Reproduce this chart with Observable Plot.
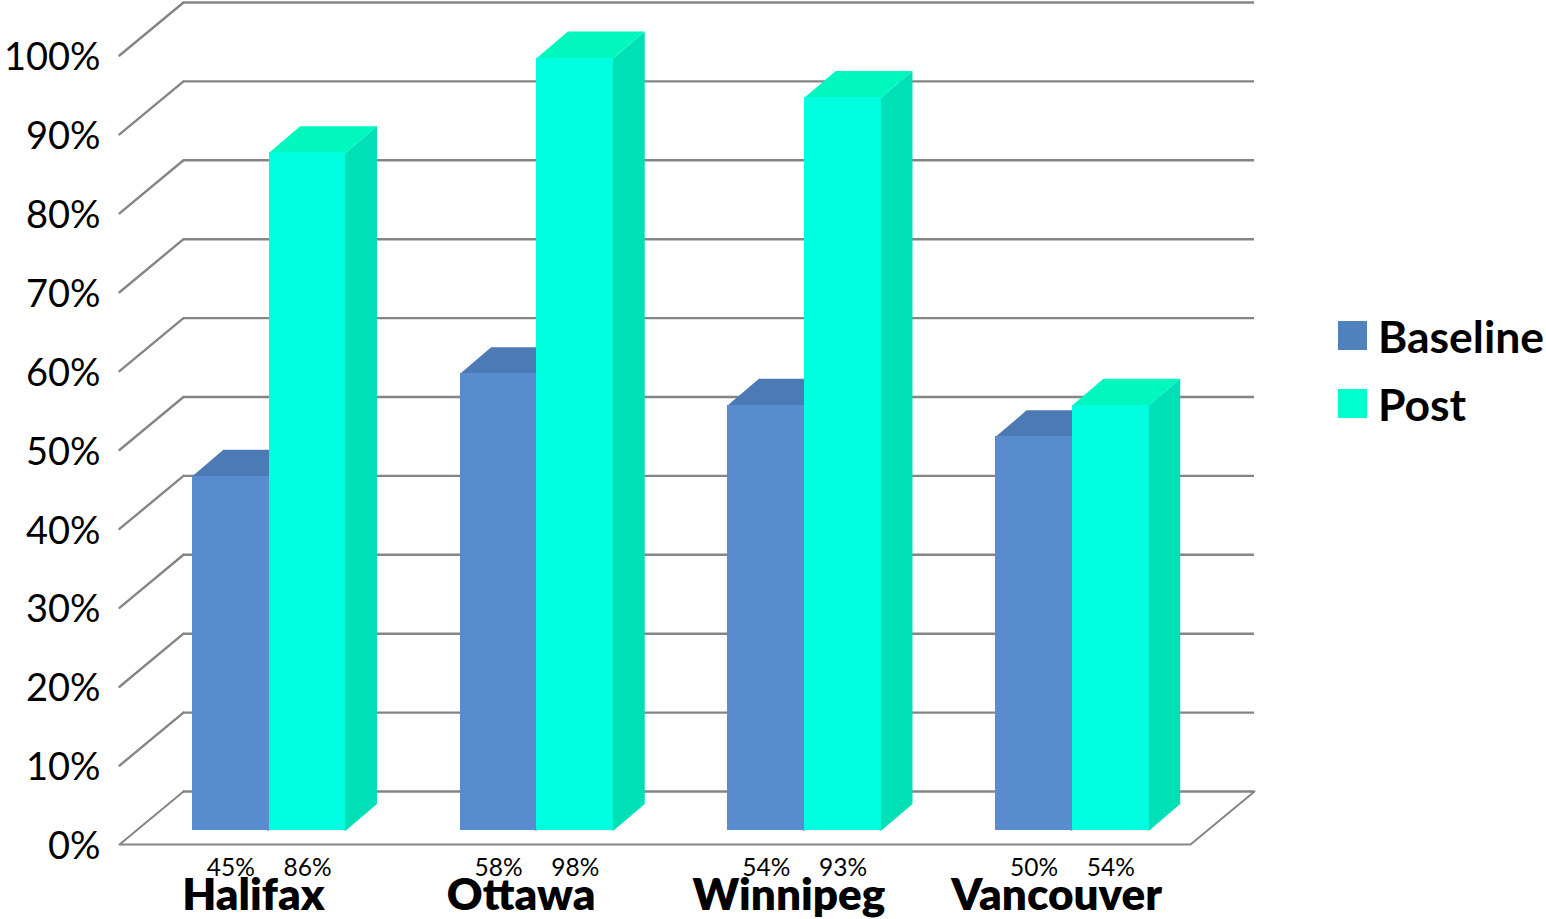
<!DOCTYPE html>
<html>
<head>
<meta charset="utf-8">
<script src="https://cdn.jsdelivr.net/npm/d3@7"></script>
<script src="https://cdn.jsdelivr.net/npm/@observablehq/plot@0.6"></script>
<style>
  html, body { margin: 0; padding: 0; background: #fff; }
  #wrap { position: relative; width: 1546px; height: 919px; overflow: hidden; }
  #legend { position: absolute; left: 1338px; top: 301px; font: 700 44.5px Lato, sans-serif; color: #000; }
  #legend div { display: flex; align-items: center; height: 68px; }
  #legend i { display: block; width: 29px; height: 29px; margin-right: 11px; }
</style>
</head>
<body>
<div id="wrap"><div id="legend"></div></div>
<script>
const categories = ["Halifax", "Ottawa", "Winnipeg", "Vancouver"];
const baseline = [45, 58, 54, 50];
const post = [86, 98, 93, 54];
const yTicks = [0, 10, 20, 30, 40, 50, 60, 70, 80, 90, 100];
const seriesNames = ["Baseline", "Post"];
const legendColors = ["#4f81bd", "#00ffcc"];

// Oblique projection, in data units (category widths and percent points)
const wallDX = 0.239, wallDY = 6.72;
const nearFrac = 0.264;
const barStart = 0.209, barW = 0.2868;
const frontDX = wallDX * nearFrac, frontDY = wallDY * nearFrac;
const depthDX = wallDX * 0.485, depthDY = wallDY * 0.5;
const seamX = 0.008, seamY = 0.3;        // faces tuck under the front rectangle so no seam shows

function bars(values, slot) {
  return values.map((v, i) => {
    const x1 = i + frontDX + barStart + slot * barW;
    return { id: categories[i], v, x1, x2: x1 + barW, y1: frontDY, y2: frontDY + v - 0.1 };
  });
}
const topFace = d => [[d.x1, d.y2 - seamY], [d.x2, d.y2 - seamY], [d.x2, d.y2], [d.x2 + depthDX, d.y2 + depthDY], [d.x1 + depthDX, d.y2 + depthDY], [d.x1, d.y2]];
const sideFace = d => [[d.x2 - seamX, d.y1], [d.x2, d.y1], [d.x2 + depthDX, d.y1 + depthDY], [d.x2 + depthDX, d.y2 + depthDY], [d.x2, d.y2], [d.x2 - seamX, d.y2]];
const poly = (rows, face) => rows.flatMap(d => face(d).map(([x, y]) => ({ id: d.id, x, y })));

function barMarks(rows, front, top, side) {
  const o = { x: "x", y: "y", z: "id", stroke: "none" };
  return [
    Plot.line(poly(rows, sideFace), { ...o, fill: side }),
    Plot.line(poly(rows, topFace), { ...o, fill: top }),
    Plot.rect(rows, { x1: "x1", x2: "x2", y1: "y1", y2: "y2", fill: front, shapeRendering: "crispEdges" })
  ];
}

const baseRows = bars(baseline, 0);
const postRows = bars(post, 1);
const gray = "#858585";
const wallLines = yTicks.map(t => ({ x1: wallDX, x2: 4 + wallDX, y: t + wallDY }));
const diagonals = yTicks.filter(t => t > 0).flatMap(t => [{ id: t, x: 0, y: t }, { id: t, x: wallDX, y: t + wallDY }]);
const floorEdge = [{ id: "a", x: wallDX, y: wallDY }, { id: "a", x: 0, y: 0 }, { id: "a", x: 4, y: 0 }, { id: "a", x: 4 + wallDX, y: wallDY }];

const labelRows = [...baseRows, ...postRows].map(d => ({ x: (d.x1 + d.x2) / 2, label: d.v + "%" }));

const chart = Plot.plot({
  width: 1546,
  height: 919,
  marginLeft: 119,
  marginRight: 292,
  marginTop: 2,
  marginBottom: 75,
  style: { background: "#fff", overflow: "visible" },
  x: { type: "linear", domain: [0, 4 + wallDX], axis: null },
  y: { type: "linear", domain: [0, 100 + wallDY], axis: null },
  marks: [
    Plot.ruleY(wallLines, { x1: "x1", x2: "x2", y: "y", stroke: gray, strokeWidth: 2.4 }),
    Plot.line(diagonals, { x: "x", y: "y", z: "id", stroke: gray, strokeWidth: 2.4 }),
    Plot.line(floorEdge, { x: "x", y: "y", z: "id", stroke: gray, strokeWidth: 2 }),
    ...barMarks(baseRows, "#588cce", "#4c7ab4", "#4c7ab4"),
    ...barMarks(postRows, "#00ffe1", "#00f8bf", "#00e0b7"),
    Plot.axisY({
      ticks: yTicks, tickFormat: d => d + "%", tickSize: 0, tickPadding: 19,
      fontSize: 38, fontFamily: "Lato, sans-serif", fill: "#000", label: null, dy: 2.5
    }),
    Plot.axisX({
      ticks: categories.map((c, i) => i + 0.5),
      tickFormat: v => categories[Math.floor(v)],
      tickSize: 0, tickPadding: 34, label: null,
      fontSize: 44, fontWeight: 800, fontFamily: "Lato, sans-serif", fill: "#000"
    }),
    Plot.text(labelRows, {
      x: "x", y: 0, text: "label", dy: 23.5,
      fontSize: 24.5, fontFamily: "Lato, sans-serif", fill: "#000"
    })
  ]
});
const wrap = document.getElementById("wrap");
wrap.insertBefore(chart, wrap.firstChild);
chart.style.display = "block";

document.getElementById("legend").innerHTML = seriesNames
  .map((s, i) => `<div><i style="background:${legendColors[i]}"></i>${s}</div>`).join("");
</script>
</body>
</html>
